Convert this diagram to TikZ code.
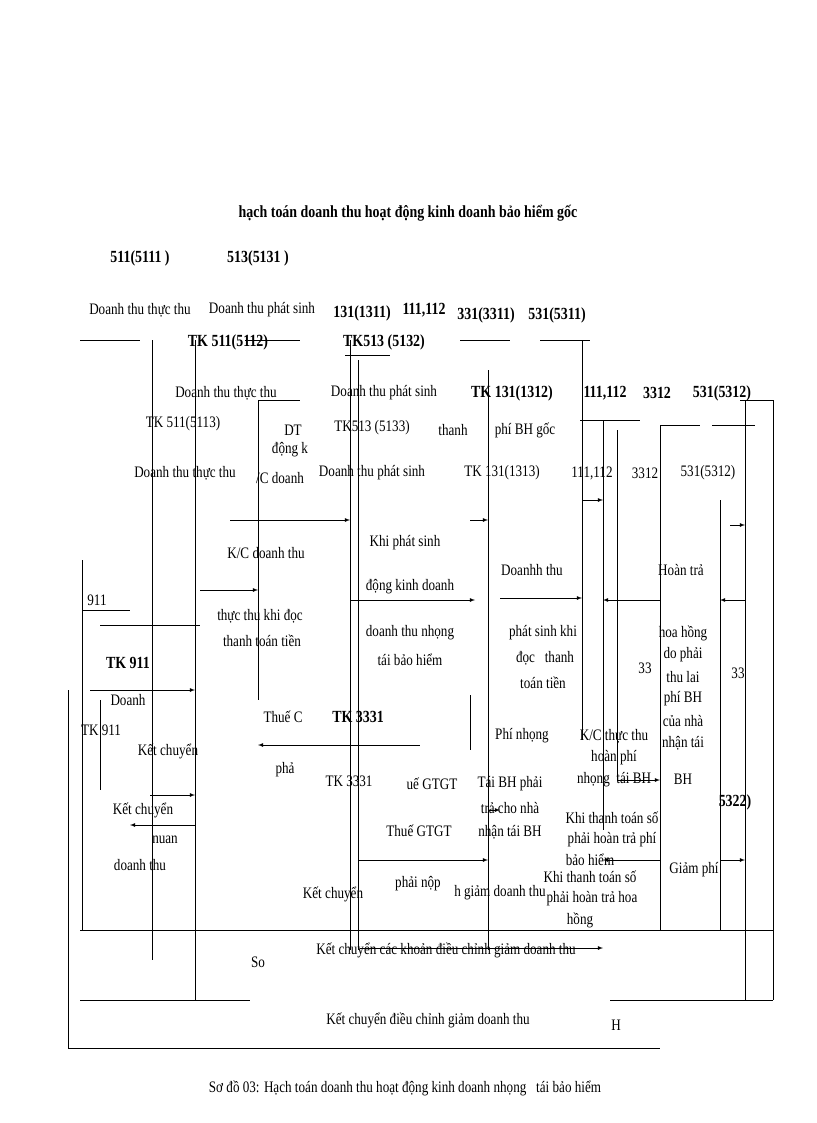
\documentclass[tikz,border=0pt]{standalone}
\usepackage{fontspec}
\setmainfont{Liberation Serif}
\begin{document}
\begin{tikzpicture}[x=1pt,y=-1pt,
  t/.style={font=\fontsize{16}{18}\selectfont,inner sep=0pt,xscale=0.82},
  b/.style={t,font=\fontsize{17}{18}\selectfont\bfseries},
  ln/.style={line width=0.8pt},
  ar/.style={ln,-latex}]
\useasboundingbox (0,0) rectangle (816,1123);
% texts
\node[b] (title) at (408,213) {hạch toán doanh thu hoạt động kinh doanh bảo hiểm gốc};
\node[b] (h1) at (140,258) {511(5111 )};
\node[b] (h2) at (258,258) {513(5131 )};
\node[t] (a1) at (140,310) {Doanh thu thực thu};
\node[t] (a2) at (262,310) {Doanh thu phát sinh};
\node[b] (h3) at (362,313) {131(1311)};
\node[b] (h4) at (424,310) {111,112};
\node[b] (h5) at (486,315) {331(3311)};
\node[b] (h6) at (557,315) {531(5311)};
\node[b] (h7) at (228,342) {TK 511(5112)};
\node[b] (h8) at (384,342) {TK513 (5132)};
\node[t] (a3) at (226,393) {Doanh thu thực thu};
\node[t] (a4) at (384,393) {Doanh thu phát sinh};
\node[b] (h9) at (512,393) {TK 131(1312)};
\node[b] (h10) at (605,393) {111,112};
\node[b] (h11) at (657,393) {3312};
\node[b] (h12) at (722,393) {531(5312)};
\node[t] (a5) at (183,424) {TK 511(5113)};
\node[t] (a6) at (372,428) {TK513 (5133)};
\node[t] (a7) at (453,430) {thanh};
\node[t] (a8) at (525,430) {phí BH gốc};
\node[t] (a9) at (293,430) {DT};
\node[t] (a10) at (290,450) {động k};
\node[t] (a11) at (185,473) {Doanh thu thực thu};
\node[t] (a12) at (280,478) {/C doanh};
\node[t] (a13) at (372,473) {Doanh thu phát sinh};
\node[t] (a14) at (502,473) {TK 131(1313)};
\node[t] (a15) at (592,473) {111,112};
\node[t] (a16) at (645,473) {3312};
\node[t] (a17) at (708,473) {531(5312)};
\node[t] (b1) at (266,553) {K/C doanh thu};
\node[t] (b2) at (405,543) {Khi phát sinh};
\node[t] (b3) at (410,587) {động kinh doanh};
\node[t] (b4) at (410,633) {doanh thu nhọng};
\node[t] (b5) at (410,660) {tái bảo hiểm};
\node[t] (b6) at (260,616) {thực thu khi đọc};
\node[t] (b7) at (262,641) {thanh toán tiền};
\node[t] (c1) at (532,570) {Doanhh thu};
\node[t] (c2) at (543,633) {phát sinh khi};
\node[t] (c3) at (545,658) {đọc \ \ thanh};
\node[t] (c4) at (543,683) {toán tiền};
\node[t] (d1) at (681,570) {Hoàn trả};
\node[t] (d2) at (683,633) {hoa hồng};
\node[t] (d3) at (683,655) {do phải};
\node[t] (d4) at (683,677) {thu lai};
\node[t] (d5) at (683,699) {phí BH};
\node[t] (d6) at (683,721) {của nhà};
\node[t] (d7) at (683,743) {nhận tái};
\node[t] (d8) at (683,779) {BH};
\node[t] (e1) at (97,600) {911};
\node[b] (e2) at (128,663) {TK 911};
\node[t] (e3) at (128,700) {Doanh};
\node[t] (e4) at (101,730) {TK 911};
\node[t] (e5) at (168,751) {Kết chuyển};
\node[t] (e6) at (143,810) {Kết chuyển};
\node[t] (e7) at (165,840) {nuan};
\node[t] (e8) at (140,865) {doanh thu};
\node[t] (f1) at (283,717) {Thuế C};
\node[b] (f2) at (358,717) {TK 3331};
\node[t] (f3) at (285,770) {phả};
\node[t] (f4) at (349,781) {TK 3331};
\node[t] (f5) at (432,784) {uế GTGT};
\node[t] (f6) at (419,831) {Thuế GTGT};
\node[t] (f7) at (418,884) {phải nộp};
\node[t] (f8) at (333,894) {Kết chuyển};
\node[t] (g1) at (522,736) {Phí nhọng};
\node[t] (g2) at (510,784) {Tái BH phải};
\node[t] (g3) at (510,808) {trả cho nhà};
\node[t] (g4) at (510,832) {nhận tái BH};
\node[t] (g5) at (614,736) {K/C thực thu};
\node[t] (g6) at (614,758) {hoàn phí};
\node[t] (g7) at (614,780) {nhọng \ tái BH};
\node[t] (g8) at (612,818) {Khi thanh toán số};
\node[t] (g9) at (612,840) {phải hoàn trả phí};
\node[t] (g10) at (590,860) {bảo hiểm};
\node[t] (g11) at (590,877) {Khi thanh toán số};
\node[t] (g12) at (592,899) {phải hoàn trả hoa};
\node[t] (g13) at (580,920) {hồng};
\node[t] (g14) at (500,893) {h giảm doanh thu};
\node[t] (g15) at (694,870) {Giảm phí};
\node[b] (g16) at (735,802) {5322)};
\node[t] (g17) at (645,668) {33};
\node[t] (g18) at (738,673) {33};
\node[t] (k1) at (446,950) {Kết chuyển các khoản điều chỉnh giảm doanh thu};
\node[t] (k2) at (258,962) {So};
\node[t] (k3) at (428,1020) {Kết chuyển điều chỉnh giảm doanh thu};
\node[t] (k4) at (616,1025) {H};
\node[t] (cap) at (405,1088) {Sơ đồ 03: Hạch toán doanh thu hoạt động kinh doanh nhọng \ \ tái bảo hiểm};
% T-account lines
\draw[ln] (80,340) -- (140,340);
\draw[ln] (152,340) -- (152,960);
\draw[ln] (195,340) -- (195,1000);
\draw[ln] (245,340) -- (300,340);
\draw[ln] (258,400) -- (258,700);
\draw[ln] (258,400) -- (300,400);
\draw[ln] (350,340) -- (350,950);
\draw[ln] (345,355) -- (390,355);
\draw[ln] (358,360) -- (358,950);
\draw[ln] (460,340) -- (510,340);
\draw[ln] (488,370) -- (488,950);
\draw[ln] (540,340) -- (590,340);
\draw[ln] (582,340) -- (582,740);
\draw[ln] (580,420) -- (640,420);
\draw[ln] (603,420) -- (603,830);
\draw[ln] (617,430) -- (617,780);
\draw[ln] (660,425) -- (700,425);
\draw[ln] (660,425) -- (660,930);
\draw[ln] (712,425) -- (755,425);
\draw[ln] (720,500) -- (720,930);
\draw[ln] (745,400) -- (745,1000);
\draw[ln] (773,400) -- (773,1000);
\draw[ln] (740,400) -- (773,400);
\draw[ln] (82,560) -- (82,930);
\draw[ln] (82,610) -- (130,610);
\draw[ln] (100,625) -- (200,625);
\draw[ln] (68,690) -- (68,1048) -- (660,1048);
\draw[ln] (100,700) -- (100,790);
\draw[ln] (80,930) -- (773,930);
\draw[ln] (80,1000) -- (250,1000);
\draw[ln] (610,1000) -- (773,1000);
\draw[ln] (300,745) -- (420,745);
\draw[ln] (470,695) -- (470,750);
% arrows
\draw[ar] (230,520) -- (350,520);
\draw[ar] (200,590) -- (258,590);
\draw[ar] (350,600) -- (475,600);
\draw[ar] (470,520) -- (488,520);
\draw[ar] (500,598) -- (582,598);
\draw[ar] (582,500) -- (603,500);
\draw[ar] (660,600) -- (603,600);
\draw[ar] (745,600) -- (720,600);
\draw[ar] (730,525) -- (745,525);
\draw[ar] (90,690) -- (195,690);
\draw[ar] (150,795) -- (195,795);
\draw[ar] (195,825) -- (130,825);
\draw[ar] (300,745) -- (258,745);
\draw[ar] (358,860) -- (488,860);
\draw[ar] (488,810) -- (500,810);
\draw[ar] (660,860) -- (603,860);
\draw[ar] (720,860) -- (745,860);
\draw[ar] (617,780) -- (660,780);
\draw[ar] (360,948) -- (603,948);
\end{tikzpicture}
\end{document}
